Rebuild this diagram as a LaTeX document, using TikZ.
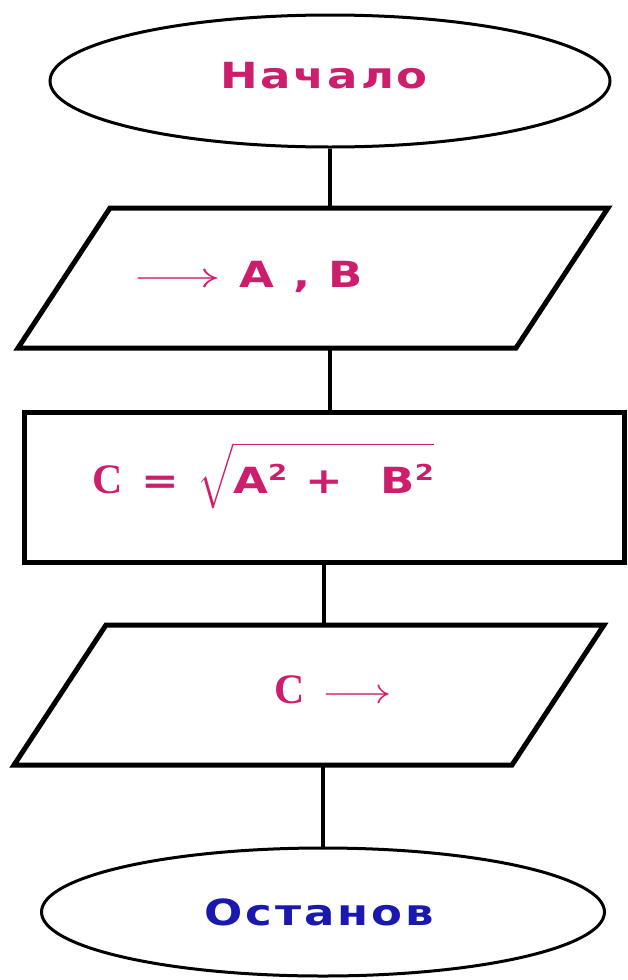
\documentclass[tikz,border=0pt]{standalone}
\usepackage{fontspec}
\usepackage{unicode-math}
\setmathfont{Latin Modern Math}
\usepackage{graphicx}
\usetikzlibrary{shapes.geometric, calc}
\newfontfamily\chartfont{DejaVu Sans Bold}[FakeStretch=1.25, LetterSpace=8]
\newfontfamily\serifbold{Liberation Serif Bold}
\newcommand{\supsize}{\fontsize{22}{24}\selectfont}
\newcommand{\sqr}{\raisebox{13pt}{\supsize 2}}
\newcommand{\longarrow}[1]{\scalebox{#1}[1]{$\longrightarrow$}}
\definecolor{inkpink}{RGB}{205,30,110}
\definecolor{inkblue}{RGB}{25,25,175}
\begin{document}
\begin{tikzpicture}[
  x=1pt, y=-1pt,
  terminal/.style={ellipse, draw=black, line width=3pt, inner sep=0pt, minimum width=560pt, minimum height=132pt},
  iobase/.style={rectangle, inner sep=0pt, outer sep=0pt, minimum width=590pt, minimum height=140pt},
  iobox/.style={line width=5pt, draw=black, line join=miter},
  procbox/.style={rectangle, draw=black, line width=5pt, inner sep=0pt, minimum width=600pt, minimum height=150pt},
  lbl/.style={font=\chartfont\fontsize{36}{40}\selectfont, text=inkpink, inner sep=0pt},
  link/.style={line width=4pt, draw=black}
]
  \useasboundingbox (0,0) rectangle (627,980);

  % --- bloques ---
  \node[terminal] (start) at (330,81) {};
  \node[iobase]   (in1)   at (313,278) {};
  \node[procbox]  (calc)  at (324,487) {};
  \node[iobase]   (out1)  at (309,695) {};
  \node[terminal, minimum width=563pt, minimum height=128pt] (stop) at (323,912) {};

  % paralelogramos de entrada / salida
  \foreach \io in {in1, out1}
    \draw[iobox] ($(\io.north west)+(92,0)$) -- (\io.north east)
      -- ($(\io.south east)-(92,0)$) -- (\io.south west) -- cycle;

  % --- textos ---
  \node[lbl, anchor=base] (t_start) at (324,88) {Начало};
  \node[lbl, anchor=base west] (t_in) at (134,287) {\longarrow{1.65}\ A , B};
  \node[lbl, anchor=base west] (t_calc) at (92,493)
    {{\serifbold\fontsize{42}{44}\selectfont C} = $\sqrt{\rule[-12pt]{0pt}{54pt}\mbox{A\sqr\ + \ B\sqr}}$};
  \node[lbl, anchor=base west] (t_out) at (274,703)
    {{\serifbold\fontsize{42}{44}\selectfont C}\ \longarrow{1.3}};
  \node[lbl, anchor=base, text=inkblue] (t_stop) at (319,925) {Останов};

  % --- conexiones ---
  \draw[link] (start.south) -- (start.south |- in1.north);
  \draw[link] (in1.south -| start) -- (calc.north -| start);
  \draw[link] (calc.south) -- (calc.south |- out1.north);
  \draw[link] (out1.south -| stop) -- (stop.north);
\end{tikzpicture}
\end{document}
